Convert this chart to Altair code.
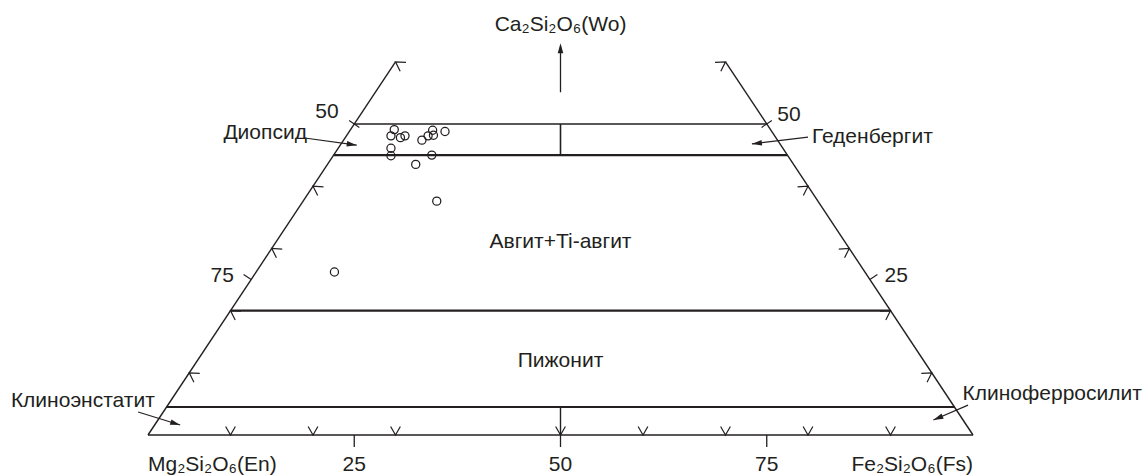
import math
import altair as alt
import pandas as pd

# ---------------- data (ternary units: Wo, En, Fs in %) ----------------
pt_wo = [49.1, 48.1, 47.8, 48.1, 47.4, 48.1, 49.0, 48.2, 48.8, 46.1, 44.9, 45.0, 43.5, 37.6, 26.2]
pt_fs = [5.3, 5.4, 6.7, 7.1, 9.5, 9.9, 10.0, 10.5, 11.6, 6.4, 7.0, 11.9, 10.7, 16.2, 9.5]
pt_en = [45.6, 46.5, 45.5, 44.8, 43.1, 42.0, 41.0, 41.3, 39.6, 47.5, 48.1, 43.1, 45.8, 46.2, 64.3]

field_lines_wo = [50, 45, 20, 4.5]          # horizontal field boundaries
field_lines_w = [1.6, 2.2, 2.2, 2.2]
wo_top = 60                                  # top end of the side edges
edge_arrow_wo = [10, 20, 30, 40, 60]         # chevrons on side edges
base_arrow_fs = [10, 20, 30, 50, 60, 70, 80, 90]
base_tick_vals = [25, 50, 75]
base_tick_labels = ["25", "50", "75"]

side_labels = ["50", "75", "50", "25"]
side_label_u = [21.7, 9.0, 77.7, 90.7]
side_label_w = [51.0, 24.6, 50.5, 24.6]

field_names = ["Диопсид", "Геденбергит", "Авгит+Ti-авгит", "Пижонит", "Клиноэнстатит", "Клиноферросилит"]
field_u = [14.2, 87.8, 50.0, 50.0, -7.9, 109.6]
field_w = [47.6, 47.0, 30.1, 10.9, 4.5, 5.7]

# annotation arrows (from -> to, ternary x-units u and Wo)
arr_u1 = [19.0, 80.0, -1.2, 99.4]
arr_w1 = [47.75, 47.9, 3.7, 4.8]
arr_u2 = [25.3, 73.2, 3.9, 95.2]
arr_w2 = [46.6, 46.8, 1.6, 2.4]

apex_label = "Ca₂Si₂O₆(Wo)"
en_label = "Mg₂Si₂O₆(En)"
fs_label = "Fe₂Si₂O₆(Fs)"

# ---------------- layout ----------------
W, H = 1144, 475
X0, XS = 148.0, 8.25   # px of u=0, px per unit
Y0, YS = 435.0, 6.22   # px of Wo=0, px per unit
INK = "#231f20"
FONT = "Liberation Sans"
FS = 21

xsc = alt.Scale(domain=[(0 - X0) / XS, (W - X0) / XS], nice=False, zero=False)
ysc = alt.Scale(domain=[(Y0 - H) / YS, Y0 / YS], nice=False, zero=False)


def X(f="x"):
    return alt.X(f"{f}:Q", scale=xsc, axis=None)


def Y(f="y"):
    return alt.Y(f"{f}:Q", scale=ysc, axis=None)


# ---------------- segments ----------------
segs = []
segs.append((0, 0, 100, 0, 1.5))
segs.append((0, 0, wo_top / 2, wo_top, 1.4))
segs.append((100, 0, 100 - wo_top / 2, wo_top, 1.4))
for w, sw in zip(field_lines_wo, field_lines_w):
    segs.append((w / 2, w, 100 - w / 2, w, sw))
segs.append((50, 45, 50, 50, 1.6))
segs.append((50, 0, 50, 4.5, 1.4))
segs.append((50, 55.1, 50, 62.5, 1.3))
tick_len = 12 / YS
for v in base_tick_vals:
    segs.append((v, 0, v, -tick_len, 1.3))
for a, b, c, d in zip(arr_u1, arr_w1, arr_u2, arr_w2):
    segs.append((a, b, c, d, 1.2))
seg_df = pd.DataFrame(segs, columns=["x", "y", "x2", "y2", "sw"])

lines = alt.Chart(seg_df).mark_rule(color=INK, strokeCap="butt").encode(
    x=X(), y=Y(), x2="x2:Q", y2="y2:Q", strokeWidth=alt.StrokeWidth("sw:Q", scale=None)
)

# ---------------- chevrons ----------------
left_pts = pd.DataFrame({"x": [w / 2 for w in edge_arrow_wo], "y": edge_arrow_wo})
right_pts = pd.DataFrame({"x": [100 - w / 2 for w in edge_arrow_wo], "y": edge_arrow_wo})
base_pts = pd.DataFrame({"x": base_arrow_fs, "y": [0] * len(base_arrow_fs)})

LCHEV = "M 0.998 0.061 L 0 0 L 0.446 0.895"
RCHEV = "M -0.998 0.061 L 0 0 L -0.446 0.895"
VCHEV = "M -0.5 -0.866 L 0 0 L 0.5 -0.866"


def sym(df, shape, size, filled=False, sw=1.2):
    return alt.Chart(df).mark_point(shape=shape, size=size, filled=filled, opacity=1,
                                    color=INK, strokeWidth=sw).encode(x=X(), y=Y())


lchev = sym(left_pts, LCHEV, 440)
rchev = sym(right_pts, RCHEV, 440)
vchev = sym(base_pts, VCHEV, 380)

# side ticks at Wo=50 (crossing) and Wo=25 (outward)
LTICK = "M -0.834 -0.552 L 0 0"
RTICK = "M 0.834 -0.552 L 0 0"
LCROSS = "M -0.834 -0.552 L 0.834 0.552"
RCROSS = "M 0.834 -0.552 L -0.834 0.552"
lt25 = sym(pd.DataFrame({"x": [12.5], "y": [25]}), LTICK, 324)
rt25 = sym(pd.DataFrame({"x": [87.5], "y": [25]}), RTICK, 324)
lt50 = sym(pd.DataFrame({"x": [25], "y": [50]}), LCROSS, 150)
rt50 = sym(pd.DataFrame({"x": [75], "y": [50]}), RCROSS, 150)

# ---------------- arrowheads ----------------
HEAD = "M 0 0 L -1 -0.28 L -1 0.28 Z"
ah = []
for a, b, c, d in zip(arr_u1, arr_w1, arr_u2, arr_w2):
    dx = (c - a) * XS
    dy = -(d - b) * YS
    ah.append((c, d, math.degrees(math.atan2(dy, dx)) % 360))
ah.append((50, 63.0, 270.0))
ah_df = pd.DataFrame(ah, columns=["x", "y", "ang"])
heads = alt.Chart(ah_df).mark_point(shape=HEAD, size=400, filled=True, opacity=1,
                                    color=INK, strokeWidth=0).encode(
    x=X(), y=Y(), angle=alt.Angle("ang:Q", scale=None)
)

# ---------------- data points ----------------
pts = pd.DataFrame({"wo": pt_wo, "fs": pt_fs, "en": pt_en})
pts["u"] = pts["fs"] + pts["wo"] / 2
points = alt.Chart(pts).mark_point(shape="circle", size=66, filled=False, opacity=1,
                                   color=INK, strokeWidth=1.25).encode(
    x=X("u"), y=Y("wo")
)

# ---------------- texts ----------------
def txt(df, align):
    return alt.Chart(df).mark_text(font=FONT, fontSize=FS, color=INK, align=align,
                                   baseline="alphabetic").encode(x=X(), y=Y(), text="t:N")


center_df = pd.DataFrame({
    "t": [apex_label] + base_tick_labels + side_labels + field_names,
    "x": [50] + base_tick_vals + side_label_u + field_u,
    "y": [64.95] + [-5.79] * 3 + side_label_w + field_w,
})
left_df = pd.DataFrame({"t": [en_label], "x": [0], "y": [-5.79]})
right_df = pd.DataFrame({"t": [fs_label], "x": [100], "y": [-5.79]})

chart = alt.layer(
    lines, lchev, rchev, vchev, lt25, rt25, lt50, rt50, heads, points,
    txt(center_df, "center"), txt(left_df, "left"), txt(right_df, "right"),
).properties(
    width=W, height=H, autosize=alt.AutoSizeParams(type="none"), padding=0,
    background="white"
).configure_view(stroke=None)

chart.save("out.html", embed_options={"renderer": "svg", "actions": False})
